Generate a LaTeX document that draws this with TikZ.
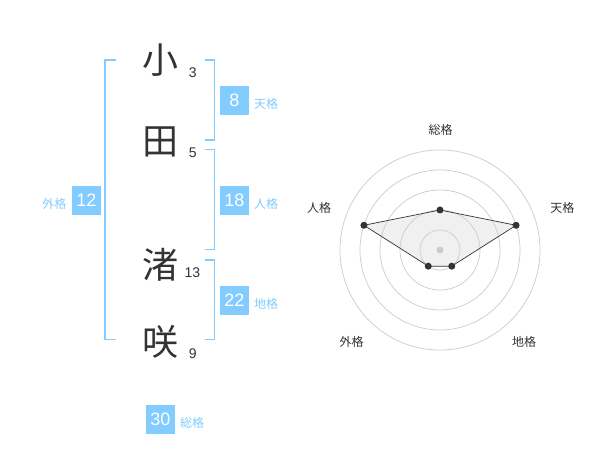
\documentclass[tikz,border=0pt]{standalone}
\usepackage{fontspec}
\setmainfont{Liberation Sans}
\newfontfamily\jpfont{Noto Sans CJK JP}
\usetikzlibrary{positioning,calc}
\definecolor{kakublue}{RGB}{130,204,255}
\definecolor{inkgray}{RGB}{51,51,51}
\definecolor{ringgray}{RGB}{204,204,204}
\definecolor{fillgray}{RGB}{240,240,240}

\begin{document}
\begin{tikzpicture}[x=1pt, y=-1pt,
        kanji/.style = {inner sep=0, text=inkgray, font=\jpfont\fontsize{36}{36}\selectfont},
        strokes/.style = {inner sep=0, text=inkgray, font=\fontsize{14}{14}\selectfont},
        numbox/.style = {
            fill=kakublue, text=white, inner sep=0,
            minimum width=29pt, minimum height=29pt,
            font=\fontsize{18}{18}\selectfont
        },
        kaku/.style = {inner sep=0, text=kakublue, font=\jpfont\fontsize{12}{12}\selectfont},
        bracket/.style = {draw=kakublue, line width=1.5pt},
        ring/.style = {draw=ringgray, line width=0.7pt},
        poly/.style = {draw=inkgray, line width=0.7pt},
        dot/.style = {fill=inkgray},
        axis/.style = {inner sep=0, text=inkgray, font=\jpfont\fontsize{12}{12}\selectfont},
        node distance=5pt]

        \useasboundingbox[fill=white] (0,0) rectangle (600,470);

        \node[kanji] (k1) at (160,60) {小};
        \node[kanji] (k2) at (160,141.7) {田};
        \node[kanji] (k3) at (160,265) {渚};
        \node[kanji] (k4) at (160,341.7) {咲};

        \node[strokes] (s1) at (192.7,72.7) {3};
        \node[strokes] (s2) at (192.7,152.7) {5};
        \node[strokes] (s3) at (192.5,272.7) {13};
        \node[strokes] (s4) at (192.7,353.3) {9};

        \draw[bracket] (116,60) -- (105,60) -- (105,339.3) -- (116,339.3);
        \draw[bracket] (205,60) -- (214.3,60) -- (214.3,140) -- (205,140);
        \draw[bracket] (205,149.3) -- (214.3,149.3) -- (214.3,249.3) -- (205,249.3);
        \draw[bracket] (205,260) -- (214.3,260) -- (214.3,339.3) -- (205,339.3);

        \node[numbox] (ten) at (234.3,100.3) {8};
        \node[numbox] (jin) at (234.3,200.3) {18};
        \node[numbox] (chi) at (234.3,300.3) {22};
        \node[numbox] (gai) at (86.3,200.3) {12};
        \node[numbox] (sou) at (160.3,419) {30};

        \node[kaku, right=of ten, yshift=-3.5pt] (lten) {天格};
        \node[kaku, right=of jin, yshift=-3.5pt] (ljin) {人格};
        \node[kaku, right=of chi, yshift=-3.5pt] (lchi) {地格};
        \node[kaku, left=of gai, yshift=-3.5pt] (lgai) {外格};
        \node[kaku, right=of sou, yshift=-3.5pt] (lsou) {総格};

        \coordinate (c) at (440,250);
        \path (c) ++(-90:40) coordinate (psou)
              (c) ++(-18:80) coordinate (pten)
              (c) ++(54:20) coordinate (pchi)
              (c) ++(126:20) coordinate (pgai)
              (c) ++(198:80) coordinate (pjin);
        \fill[fillgray] (psou) -- (pten) -- (pchi) -- (pgai) -- (pjin) -- cycle;

        \foreach \r in {20,40,...,100}
            \draw[ring] (c) circle (\r pt);

        \draw[poly] (psou) -- (pten) -- (pchi) -- (pgai) -- (pjin) -- cycle;
        \foreach \p in {psou,pten,pchi,pgai,pjin}
            \fill[dot] (\p) circle (3.5pt);
        \fill[ringgray] (c) circle (3.5pt);

        \node[axis] (asou) at (440.7,130) {総格};
        \node[axis] (aten) at (562.3,208.3) {天格};
        \node[axis] (ajin) at (319,208.3) {人格};
        \node[axis] (agai) at (351.7,342.3) {外格};
        \node[axis] (achi) at (524,342.3) {地格};
    \end{tikzpicture}
\end{document}
